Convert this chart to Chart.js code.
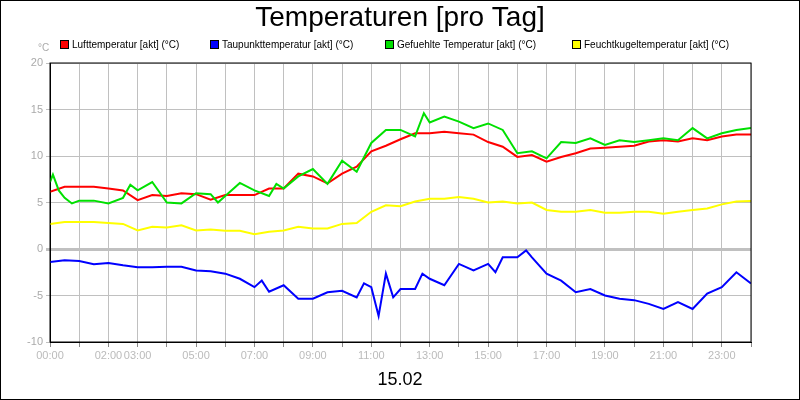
<!DOCTYPE html>
<html><head><meta charset="utf-8">
<script src="https://cdn.jsdelivr.net/npm/chart.js@4"></script>
<style>html,body{margin:0;padding:0;background:#fff}#w{width:800px;height:400px;position:relative}</style>
</head><body><div id="w"><canvas id="c"></canvas></div>
<script>
const seriesLabels = ["Lufttemperatur [akt] (°C)","Taupunkttemperatur [akt] (°C)","Gefuehlte Temperatur [akt] (°C)","Feuchtkugeltemperatur [akt] (°C)"];
const tickHours = [0,2,3,5,7,9,11,13,15,17,19,21,23];
const tickLabels = ["00:00","02:00","03:00","05:00","07:00","09:00","11:00","13:00","15:00","17:00","19:00","21:00","23:00"];
const halfHours = [0,0.5,1,1.5,2,2.5,3,3.5,4,4.5,5,5.5,6,6.5,7,7.5,8,8.5,9,9.5,10,10.5,11,11.5,12,12.5,13,13.5,14,14.5,15,15.5,16,16.5,17,17.5,18,18.5,19,19.5,20,20.5,21,21.5,22,22.5,23,23.5,24];
const luftTemp = [6.15,6.7,6.7,6.7,6.5,6.3,5.25,5.8,5.7,6.0,5.9,5.3,5.8,5.8,5.8,6.5,6.5,8.1,7.8,7.05,8.1,8.85,10.5,11.1,11.8,12.45,12.45,12.6,12.45,12.3,11.5,11.0,9.9,10.1,9.4,9.9,10.3,10.8,10.9,11.0,11.1,11.55,11.7,11.55,11.9,11.7,12.1,12.3,12.3];
const feuchtTemp = [2.7,2.9,2.9,2.9,2.8,2.7,2.0,2.4,2.3,2.55,2.0,2.1,1.95,1.95,1.6,1.85,2.0,2.4,2.2,2.2,2.7,2.8,4.0,4.7,4.6,5.1,5.4,5.4,5.6,5.4,5.0,5.1,4.9,5.0,4.2,4.0,4.0,4.2,3.9,3.9,4.0,4.0,3.8,4.0,4.2,4.35,4.8,5.1,5.15];
const gefHours = [0,0.1,0.3,0.5,0.75,1,1.5,2,2.5,2.75,3,3.5,4,4.5,5,5.5,5.75,6,6.5,7,7.5,7.75,8,8.5,9,9.5,10,10.5,11,11.5,12,12.5,12.8,13,13.5,14,14.5,15,15.5,16,16.5,17,17.5,18,18.5,19,19.5,20,20.5,21,21.5,22,22.5,23,23.5,24];
const gefTemp = [7.2,8.0,6.3,5.5,4.9,5.2,5.2,4.9,5.5,6.9,6.3,7.2,5.0,4.9,6.0,5.9,5.0,5.7,7.1,6.3,5.7,7.0,6.5,7.8,8.6,7.0,9.5,8.3,11.4,12.8,12.8,12.1,14.6,13.6,14.25,13.7,13.0,13.5,12.8,10.3,10.5,9.75,11.5,11.4,11.9,11.2,11.7,11.5,11.7,11.9,11.7,13.0,11.9,12.45,12.8,13.0];
const tauHours = [0,0.5,1,1.5,2,2.5,3,3.5,4,4.5,5,5.5,6,6.5,7,7.25,7.5,8,8.5,9,9.5,10,10.5,10.75,11,11.25,11.5,11.75,12,12.5,12.75,13,13.5,14,14.5,15,15.25,15.5,16,16.3,16.5,17,17.5,18,18.5,19,19.5,20,20.5,21,21.5,22,22.5,23,23.5,24];
const tauTemp = [-1.4,-1.2,-1.3,-1.65,-1.5,-1.75,-1.95,-1.95,-1.9,-1.9,-2.3,-2.4,-2.65,-3.2,-4.1,-3.4,-4.6,-3.9,-5.35,-5.35,-4.65,-4.5,-5.2,-3.7,-4.1,-7.2,-2.65,-5.2,-4.3,-4.3,-2.65,-3.2,-3.9,-1.6,-2.3,-1.6,-2.5,-0.9,-0.9,-0.15,-0.9,-2.65,-3.4,-4.65,-4.3,-5.0,-5.35,-5.5,-5.9,-6.45,-5.7,-6.45,-4.8,-4.1,-2.5,-3.7];
const colors = ["#ff0000","#0000ff","#00e000","#ffff00"];
const pts=(xs,ys)=>xs.map((x,i)=>({x:x,y:ys[i]}));
const FONT="'Liberation Sans', Arial, sans-serif";
const deco={id:'deco',afterDraw(ch){const c=ch.ctx;c.save();
 c.fillStyle='#000';c.textAlign='center';c.textBaseline='middle';
 c.font="28px "+FONT;c.fillText("Temperaturen [pro Tag]",400,18);
 c.font="18px "+FONT;c.fillText("15.02",400,380);
 c.font="10px "+FONT;c.textAlign='left';c.fillStyle='#aaa';c.fillText("°C",38,48);
 const lx=[60,210,385,572];
 seriesLabels.forEach((l,i)=>{c.fillStyle=colors[i];c.fillRect(lx[i],40,9,9);c.strokeStyle='#000';c.lineWidth=1;c.strokeRect(lx[i]+0.5,40.5,8,8);c.fillStyle='#000';c.fillText(l,lx[i]+12,45);});
 c.strokeStyle='#000';c.lineWidth=1;c.strokeRect(0.5,0.5,799,399);c.restore();}};
new Chart(document.getElementById('c'),{type:'line',
data:{datasets:[
 {label:seriesLabels[0],data:pts(halfHours,luftTemp),borderColor:colors[0]},
 {label:seriesLabels[1],data:pts(tauHours,tauTemp),borderColor:colors[1]},
 {label:seriesLabels[2],data:pts(gefHours,gefTemp),borderColor:colors[2]},
 {label:seriesLabels[3],data:pts(halfHours,feuchtTemp),borderColor:colors[3]}].reverse().map((d,i,a)=>d)},
options:{responsive:true,maintainAspectRatio:false,animation:false,
 elements:{point:{radius:0},line:{borderWidth:2,tension:0}},
 layout:{padding:{top:63,right:49,left:0,bottom:0}},
 plugins:{legend:{display:false},tooltip:{enabled:false}},
 scales:{
  x:{type:'linear',min:0,max:24,afterFit(s){s.height=58;},
     afterBuildTicks(s){s.ticks=[];for(let h=0;h<=24;h++)s.ticks.push({value:h});},
     ticks:{autoSkip:false,maxRotation:0,color:'#bbb',font:{size:11,family:FONT},padding:2,
       callback:(v)=>{const i=tickHours.indexOf(v);return i>=0?tickLabels[i]:'';}},
     grid:{color:'#c0c0c0',tickLength:5,tickColor:'#888'},border:{color:'#000'}},
  y:{min:-10,max:20,afterFit(s){s.width=50;},
     ticks:{stepSize:5,color:'#aaa',font:{size:11,family:FONT},padding:3},
     grid:{color:'#c0c0c0',lineWidth:(c)=>c.tick&&c.tick.value===0?3:1,tickLength:4},border:{color:'#000'}}
 }},
plugins:[deco,{id:'frame',afterDraw(ch){const a=ch.chartArea,c=ch.ctx;c.save();c.strokeStyle='#000';c.lineWidth=1;c.strokeRect(a.left,a.top,a.right-a.left,a.bottom-a.top);c.restore();}}]});
</script></body></html>
